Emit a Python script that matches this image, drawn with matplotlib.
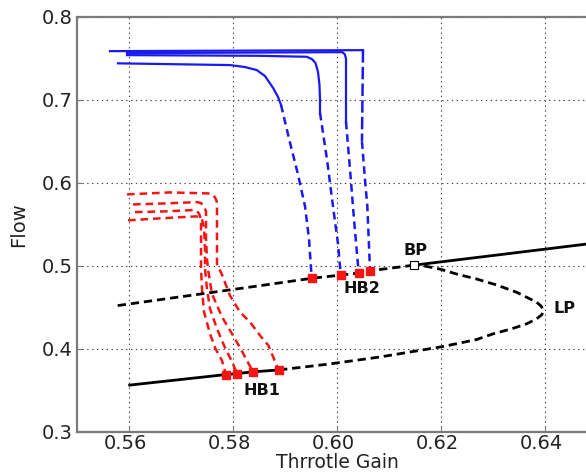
import matplotlib
matplotlib.use("Agg")
import matplotlib.pyplot as plt
import matplotlib.transforms as mtransforms

plt.rcParams['font.family'] = ['DejaVu Sans']
plt.rcParams['lines.scale_dashes'] = False

# ---- data ----
# equilibrium branch (black)
stable_low_x = [0.55987, 0.57865, 0.5808, 0.5838, 0.58885]
stable_low_y = [0.3558, 0.3687, 0.3699, 0.3719, 0.3743]
unstable_loop_x = [0.58885, 0.59800, 0.60827, 0.61981, 0.62302, 0.62687, 0.63006, 0.63360, 0.63648,
                   0.63840, 0.63940, 0.63967, 0.63930, 0.63840, 0.63456, 0.63071, 0.62687, 0.62302,
                   0.61981, 0.61660, 0.61487]
unstable_loop_y = [0.3743, 0.3810, 0.3899, 0.4019, 0.4059, 0.4110, 0.4179, 0.4239, 0.4299,
                   0.4359, 0.4410, 0.4459, 0.4510, 0.4559, 0.4679, 0.4767, 0.4839, 0.4899,
                   0.4959, 0.4999, 0.5007]
unstable_up_x = [0.55783, 0.58519, 0.59513, 0.60071, 0.60417, 0.60635, 0.61487]
unstable_up_y = [0.4519, 0.4759, 0.4848, 0.4887, 0.4911, 0.4939, 0.5007]
stable_up_x = [0.61487, 0.64788]
stable_up_y = [0.5007, 0.5260]

# Hopf points
hb1_x = [0.57865, 0.5808, 0.5838, 0.58885]
hb1_y = [0.3687, 0.3699, 0.3719, 0.3743]
hb2_x = [0.59513, 0.60071, 0.60417, 0.60635]
hb2_y = [0.4848, 0.4887, 0.4911, 0.4939]
bp_x, bp_y = 0.61487, 0.5007

# blue periodic branches from HB2 (solid = stable, dashed = unstable)
blue_a_solid_x = [0.55788, 0.57942, 0.58231, 0.58456, 0.58615, 0.58775, 0.58865, 0.58923]
blue_a_solid_y = [0.7441, 0.7420, 0.7396, 0.7360, 0.7288, 0.7140, 0.7036, 0.6940]
blue_a_dash_x = [0.58923, 0.59096, 0.5925, 0.59385, 0.59462, 0.59513]
blue_a_dash_y = [0.6940, 0.6484, 0.6100, 0.5715, 0.5319, 0.4848]

blue_b_solid_x = [0.55962, 0.5850, 0.59417, 0.59519, 0.59587, 0.59635, 0.59663, 0.59673, 0.59673]
blue_b_solid_y = [0.7540, 0.7532, 0.7520, 0.7492, 0.7444, 0.7336, 0.7180, 0.7000, 0.6844]
blue_b_dash_x = [0.59673, 0.59808, 0.59923, 0.6002, 0.60071]
blue_b_dash_y = [0.6844, 0.6280, 0.5715, 0.5259, 0.4887]

blue_c_solid_x = [0.55962, 0.6010, 0.6015, 0.60173, 0.60173]
blue_c_solid_y = [0.7564, 0.7576, 0.7550, 0.7500, 0.6736]
blue_c_dash_x = [0.60173, 0.6025, 0.60327, 0.60417]
blue_c_dash_y = [0.6736, 0.6160, 0.5559, 0.4911]

blue_d_top_x = [0.55635, 0.6050]
blue_d_top_y = [0.7588, 0.7600]
blue_d_long_x = [0.6050, 0.6048]
blue_d_long_y = [0.7600, 0.6500]
blue_d_dash_x = [0.6048, 0.60538, 0.60583, 0.60635]
blue_d_dash_y = [0.6500, 0.6040, 0.5719, 0.4939]

# red periodic branches from HB1 (unstable, dashed)
red1_x = [0.55962, 0.56788, 0.57519, 0.57600, 0.57654, 0.57685, 0.57692, 0.57692, 0.57692, 0.57783,
          0.57942, 0.58135, 0.58327, 0.58519, 0.58679, 0.5884, 0.58885]
red1_y = [0.5860, 0.5884, 0.5872, 0.5860, 0.5824, 0.5780, 0.5739, 0.5439, 0.5019, 0.4899,
          0.4639, 0.4440, 0.4320, 0.4159, 0.4039, 0.3798, 0.3743]
red2_x = [0.56077, 0.56692, 0.57308, 0.57380, 0.57440, 0.57481, 0.57481, 0.575, 0.57519, 0.57596,
          0.57788, 0.5798, 0.58135, 0.58269, 0.58385]
red2_y = [0.5739, 0.5751, 0.5767, 0.5757, 0.5720, 0.5655, 0.5319, 0.5079, 0.4959, 0.4659,
          0.4383, 0.4179, 0.4011, 0.3855, 0.3719]
red3_x = [0.56115, 0.56692, 0.57231, 0.57300, 0.57346, 0.57385, 0.57385, 0.57385, 0.57404, 0.57442,
          0.57558, 0.57654, 0.57788, 0.57865]
red3_y = [0.5647, 0.5655, 0.5671, 0.5662, 0.5630, 0.5559, 0.5199, 0.4959, 0.4719, 0.4443,
          0.4179, 0.4011, 0.3855, 0.3687]
red4_x = [0.55981, 0.56596, 0.57288, 0.57360, 0.57404, 0.57442, 0.57462, 0.57462, 0.575, 0.57558,
          0.57692, 0.57846, 0.5798, 0.58077]
red4_y = [0.5547, 0.5571, 0.5595, 0.5585, 0.5555, 0.5463, 0.5199, 0.4959, 0.4719, 0.4479,
          0.4239, 0.4011, 0.3843, 0.3699]

labels = {"HB1": (0.5820, 0.3498), "HB2": (0.6012, 0.4719), "BP": (0.61275, 0.5179), "LP": (0.6416, 0.4479)}

xticks = [0.56, 0.58, 0.60, 0.62, 0.64]
xticklabels = ["0.56", "0.58", "0.60", "0.62", "0.64"]
yticks = [0.3, 0.4, 0.5, 0.6, 0.7, 0.8]
yticklabels = ["0.3", "0.4", "0.5", "0.6", "0.7", "0.8"]

# ---- figure ----
fig = plt.figure(figsize=(5.86, 4.72), dpi=100)
ax = fig.add_axes([0.1314, 0.0858, 0.8874, 0.8782])
ax.set_xlim(0.55, 0.65)
ax.set_ylim(0.3, 0.8)

blk_d = (0, (6, 3.5))
col_d = (0, (5.5, 3.5))
BLUE = '#1a1af0'
RED = '#f51515'

ax.plot(stable_low_x, stable_low_y, color='black', lw=2.0, solid_capstyle='butt', zorder=3)
ax.plot(unstable_loop_x, unstable_loop_y, color='black', lw=2.0, linestyle=blk_d, zorder=3)
ax.plot(unstable_up_x, unstable_up_y, color='black', lw=2.0, linestyle=blk_d, zorder=3)
ax.plot(stable_up_x, stable_up_y, color='black', lw=2.0, zorder=3)

for sx, sy, dx, dy in [(blue_a_solid_x, blue_a_solid_y, blue_a_dash_x, blue_a_dash_y),
                       (blue_b_solid_x, blue_b_solid_y, blue_b_dash_x, blue_b_dash_y),
                       (blue_c_solid_x, blue_c_solid_y, blue_c_dash_x, blue_c_dash_y)]:
    ax.plot(sx, sy, color=BLUE, lw=1.6, zorder=2)
    ax.plot(dx, dy, color=BLUE, lw=1.8, linestyle=col_d, zorder=2)
ax.plot(blue_d_top_x, blue_d_top_y, color=BLUE, lw=1.6, zorder=2)
ax.plot(blue_d_long_x, blue_d_long_y, color=BLUE, lw=1.8, linestyle=(0, (9, 3)), zorder=2)
ax.plot(blue_d_dash_x, blue_d_dash_y, color=BLUE, lw=1.8, linestyle=col_d, zorder=2)

for rx, ry in [(red1_x, red1_y), (red2_x, red2_y), (red3_x, red3_y), (red4_x, red4_y)]:
    ax.plot(rx, ry, color=RED, lw=1.8, linestyle=col_d, zorder=2)

ax.plot(hb1_x, hb1_y, linestyle='none', marker='s', markersize=5.5, color=RED, mec=RED, zorder=4)
ax.plot(hb2_x, hb2_y, linestyle='none', marker='s', markersize=5.5, color=RED, mec=RED, zorder=4)
ax.plot([bp_x], [bp_y], linestyle='none', marker='s', markersize=5.5, mfc='white', mec='black', mew=0.8, zorder=5)

for name, (lx, ly) in labels.items():
    ax.text(lx, ly, name, fontsize=11.5, fontweight='bold', color='#111111', ha='left', va='center', zorder=6)

ax.set_xticks(xticks)
ax.set_xticklabels(xticklabels)
ax.set_yticks(yticks)
ax.set_yticklabels(yticklabels)
ax.tick_params(axis='both', direction='in', length=4, width=0.8, color='#777777',
               labelsize=14, labelcolor='#222222', pad=3)
ax.tick_params(axis='x', pad=2)
offset = mtransforms.ScaledTranslation(-4 / 100, 0, fig.dpi_scale_trans)
for lab in ax.get_xticklabels():
    lab.set_transform(lab.get_transform() + offset)
ax.grid(True, color='#444444', linestyle=(0, (1, 2.5)), linewidth=0.8)
ax.set_axisbelow(True)
for sp in ax.spines.values():
    sp.set_color('#7a7a7a')
    sp.set_linewidth(1.6)
ax.spines['right'].set_visible(False)

ax.set_xlabel('Thrrotle Gain', fontsize=13.5, color='#222222', labelpad=0)
ax.set_ylabel('Flow', fontsize=14, color='#222222', labelpad=10)

fig.savefig('out.png', dpi=100)
